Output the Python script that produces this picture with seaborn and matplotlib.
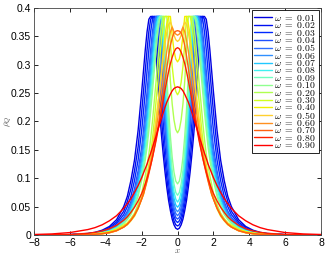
import numpy as np
import pandas as pd
import seaborn as sns
import matplotlib
matplotlib.use("Agg")
import matplotlib.pyplot as plt

# omega values of the curves (legend order)
omegas = ["0.01", "0.02", "0.03", "0.04", "0.05", "0.06", "0.07", "0.08", "0.09",
          "0.10", "0.20", "0.30", "0.40", "0.50", "0.60", "0.70", "0.80", "0.90"]

# right half of the x axis, profiles are symmetric in x
x_half = [0.0, 0.1, 0.2, 0.3, 0.4, 0.5, 0.6, 0.7, 0.8, 0.9, 1.0, 1.1, 1.2, 1.3, 1.4,
          1.5, 1.6, 1.7, 1.8, 1.9, 2.0, 2.2, 2.4, 2.6, 2.8, 3.0, 3.4, 3.8, 4.2, 4.6,
          5.0, 6.0, 7.0, 8.0]

rho_001 = [0.010, 0.012, 0.018, 0.028, 0.043, 0.061, 0.084, 0.111, 0.142, 0.177, 0.218, 0.265,
           0.318, 0.366, 0.385, 0.385, 0.380, 0.358, 0.326, 0.289, 0.252, 0.184, 0.132, 0.096,
           0.068, 0.050, 0.027, 0.015, 0.0085, 0.0047, 0.0027, 0.0007, 0.0002, 0.0]
rho_002 = [0.016, 0.018, 0.025, 0.037, 0.054, 0.075, 0.101, 0.132, 0.167, 0.208, 0.256, 0.311,
           0.370, 0.385, 0.385, 0.380, 0.358, 0.326, 0.289, 0.252, 0.217, 0.155, 0.113, 0.081,
           0.059, 0.042, 0.023, 0.013, 0.007, 0.004, 0.0023, 0.0006, 0.0001, 0.0]
rho_003 = [0.022, 0.025, 0.033, 0.047, 0.066, 0.091, 0.121, 0.157, 0.198, 0.247, 0.305, 0.360,
           0.385, 0.385, 0.380, 0.358, 0.326, 0.289, 0.252, 0.217, 0.184, 0.132, 0.096, 0.068,
           0.050, 0.036, 0.020, 0.011, 0.006, 0.0035, 0.002, 0.0005, 0.0001, 0.0]
rho_004 = [0.028, 0.031, 0.041, 0.057, 0.080, 0.109, 0.144, 0.187, 0.239, 0.299, 0.360, 0.385,
           0.385, 0.380, 0.358, 0.326, 0.289, 0.252, 0.217, 0.184, 0.155, 0.113, 0.081, 0.059,
           0.042, 0.031, 0.017, 0.0095, 0.0053, 0.003, 0.0018, 0.0004, 0.0001, 0.0]
rho_005 = [0.034, 0.038, 0.048, 0.066, 0.090, 0.122, 0.160, 0.206, 0.262, 0.329, 0.385, 0.385,
           0.385, 0.370, 0.343, 0.308, 0.270, 0.235, 0.200, 0.169, 0.142, 0.104, 0.073, 0.054,
           0.0385, 0.029, 0.016, 0.009, 0.005, 0.0029, 0.0017, 0.0004, 0.0001, 0.0]
rho_006 = [0.041, 0.045, 0.056, 0.075, 0.102, 0.136, 0.179, 0.230, 0.292, 0.361, 0.385, 0.385,
           0.380, 0.358, 0.326, 0.289, 0.252, 0.217, 0.184, 0.155, 0.132, 0.096, 0.068, 0.050,
           0.036, 0.027, 0.015, 0.0085, 0.0047, 0.0027, 0.0016, 0.0003, 0.0001, 0.0]
rho_007 = [0.049, 0.053, 0.065, 0.086, 0.115, 0.153, 0.199, 0.254, 0.325, 0.385, 0.385, 0.385,
           0.370, 0.343, 0.308, 0.270, 0.235, 0.200, 0.169, 0.142, 0.123, 0.089, 0.064, 0.046,
           0.033, 0.025, 0.014, 0.0078, 0.0044, 0.0025, 0.0015, 0.0003, 0.0001, 0.0]
rho_008 = [0.058, 0.063, 0.076, 0.099, 0.131, 0.171, 0.222, 0.284, 0.356, 0.385, 0.385, 0.380,
           0.358, 0.326, 0.289, 0.252, 0.217, 0.184, 0.155, 0.132, 0.113, 0.081, 0.059, 0.042,
           0.031, 0.023, 0.013, 0.007, 0.004, 0.0023, 0.0014, 0.0003, 0.0001, 0.0]
rho_009 = [0.070, 0.075, 0.090, 0.114, 0.149, 0.193, 0.250, 0.319, 0.385, 0.385, 0.385, 0.370,
           0.343, 0.308, 0.270, 0.235, 0.200, 0.169, 0.142, 0.123, 0.104, 0.073, 0.054, 0.0385,
           0.029, 0.021, 0.012, 0.0065, 0.0038, 0.0022, 0.0013, 0.0003, 0.0001, 0.0]
rho_010 = [0.090, 0.095, 0.111, 0.137, 0.174, 0.221, 0.282, 0.356, 0.385, 0.385, 0.380, 0.358,
           0.326, 0.289, 0.252, 0.217, 0.184, 0.155, 0.132, 0.113, 0.096, 0.068, 0.050, 0.036,
           0.027, 0.020, 0.011, 0.006, 0.0035, 0.002, 0.0012, 0.0003, 0.0001, 0.0]
rho_020 = [0.180, 0.186, 0.203, 0.231, 0.271, 0.326, 0.385, 0.385, 0.385, 0.370, 0.343, 0.308,
           0.270, 0.235, 0.200, 0.169, 0.142, 0.123, 0.104, 0.089, 0.073, 0.054, 0.0385, 0.029,
           0.021, 0.016, 0.009, 0.005, 0.0029, 0.0017, 0.001, 0.0002, 0.0, 0.0]
rho_030 = [0.247, 0.253, 0.269, 0.297, 0.337, 0.385, 0.385, 0.385, 0.370, 0.343, 0.308, 0.270,
           0.235, 0.200, 0.169, 0.142, 0.123, 0.104, 0.089, 0.073, 0.064, 0.046, 0.033, 0.025,
           0.018, 0.014, 0.008, 0.0044, 0.0025, 0.0015, 0.0009, 0.0002, 0.0, 0.0]
rho_040 = [0.305, 0.310, 0.325, 0.351, 0.385, 0.385, 0.372, 0.351, 0.322, 0.290, 0.257, 0.227,
           0.197, 0.170, 0.146, 0.129, 0.112, 0.097, 0.085, 0.071, 0.064, 0.048, 0.036, 0.028,
           0.021, 0.017, 0.010, 0.006, 0.0035, 0.002, 0.0012, 0.0003, 0.0001, 0.0]
rho_050 = [0.341, 0.344, 0.352, 0.367, 0.375, 0.371, 0.357, 0.336, 0.311, 0.283, 0.255, 0.229,
           0.203, 0.178, 0.156, 0.137, 0.120, 0.104, 0.090, 0.077, 0.066, 0.049, 0.036, 0.026,
           0.019, 0.014, 0.0073, 0.0038, 0.002, 0.001, 0.0005, 0.0001, 0.0, 0.0]
rho_060 = [0.352, 0.354, 0.358, 0.366, 0.358, 0.343, 0.324, 0.301, 0.277, 0.252, 0.229, 0.206,
           0.184, 0.164, 0.145, 0.128, 0.113, 0.099, 0.086, 0.074, 0.064, 0.048, 0.035, 0.026,
           0.019, 0.014, 0.0075, 0.004, 0.0022, 0.0012, 0.0006, 0.0001, 0.0, 0.0]
rho_070 = [0.360, 0.359, 0.356, 0.347, 0.334, 0.315, 0.294, 0.272, 0.250, 0.230, 0.209, 0.189,
           0.170, 0.153, 0.137, 0.122, 0.108, 0.095, 0.083, 0.072, 0.063, 0.047, 0.035, 0.026,
           0.019, 0.014, 0.0078, 0.0043, 0.0024, 0.0013, 0.0007, 0.0002, 0.0, 0.0]
rho_080 = [0.330, 0.328, 0.322, 0.313, 0.302, 0.288, 0.272, 0.255, 0.237, 0.218, 0.200, 0.183,
           0.166, 0.151, 0.136, 0.123, 0.111, 0.100, 0.090, 0.081, 0.073, 0.060, 0.049, 0.040,
           0.032, 0.026, 0.017, 0.011, 0.0072, 0.0047, 0.003, 0.001, 0.0003, 0.0001]
rho_090 = [0.261, 0.260, 0.258, 0.254, 0.248, 0.241, 0.234, 0.225, 0.215, 0.205, 0.195, 0.185,
           0.174, 0.164, 0.154, 0.144, 0.135, 0.125, 0.117, 0.109, 0.101, 0.087, 0.075, 0.064,
           0.055, 0.047, 0.034, 0.025, 0.018, 0.013, 0.0096, 0.0043, 0.0019, 0.0009]

curves = [rho_001, rho_002, rho_003, rho_004, rho_005, rho_006, rho_007, rho_008, rho_009,
          rho_010, rho_020, rho_030, rho_040, rho_050, rho_060, rho_070, rho_080, rho_090]

colors = ["#0000e0", "#0010f0", "#0028ff", "#2050ff", "#3070ff", "#3090ff", "#20c8ff",
          "#40f0f0", "#70ffc0", "#90ff90", "#b0ff50", "#d0ff20", "#f0f000", "#ffd030",
          "#ff9020", "#ff6010", "#ff2000", "#ff0000"]

yticks = [0, 0.05, 0.1, 0.15, 0.2, 0.25, 0.3, 0.35, 0.4]
yticklabels = ["0", "0.05", "0.1", "0.15", "0.2", "0.25", "0.3", "0.35", "0.4"]

# mirror the half profiles into full curves
xh = np.array(x_half)
x_full = np.concatenate([-xh[:0:-1], xh])
parts = []
for w, rho in zip(omegas, curves):
    y = np.array(rho)
    y_full = np.concatenate([y[:0:-1], y])
    parts.append(pd.DataFrame({"x": x_full, "rho": y_full,
                               "label": r"$\omega\ =\ %s$" % w}))
df = pd.concat(parts, ignore_index=True)

sns.set_theme(style="ticks")
plt.rcParams["font.family"] = ["Liberation Sans", "DejaVu Sans"]
plt.rcParams["mathtext.fontset"] = "cm"

fig = plt.figure(figsize=(3.27, 2.56), dpi=100)
ax = fig.add_axes([0.104, 0.082, 0.878, 0.887])

labels = list(df["label"].unique())
sns.lineplot(data=df, x="x", y="rho", hue="label", hue_order=labels, palette=colors,
             estimator=None, sort=False, lw=1.0, ax=ax)

ax.set_xlim(-8, 8)
ax.set_ylim(0, 0.4)
ax.set_xticks(range(-8, 9, 2))
ax.set_yticks(yticks)
ax.set_yticklabels(yticklabels)
ax.tick_params(direction="in", top=True, right=True, length=3, width=0.6,
               labelsize=7.5, pad=2, colors="black")
for s in ax.spines.values():
    s.set_linewidth(0.6)
    s.set_color("#444444")

ax.set_xlabel(r"$x$", fontsize=6.5, color="#555555", labelpad=-1)
ax.set_ylabel(r"$\rho_Q$", fontsize=6.5, color="#555555")
ax.yaxis.set_label_coords(-0.068, 0.5)

h, l = ax.get_legend_handles_labels()
ax.legend(h, l, loc="upper right", fontsize=7, labelspacing=-0.27, handlelength=1.85,
          handletextpad=0.2, borderpad=0.25, borderaxespad=0.25, frameon=True,
          fancybox=False, edgecolor="black", framealpha=1, labelcolor="black")
ax.get_legend().get_frame().set_linewidth(0.6)

fig.savefig("out.png", dpi=100)
